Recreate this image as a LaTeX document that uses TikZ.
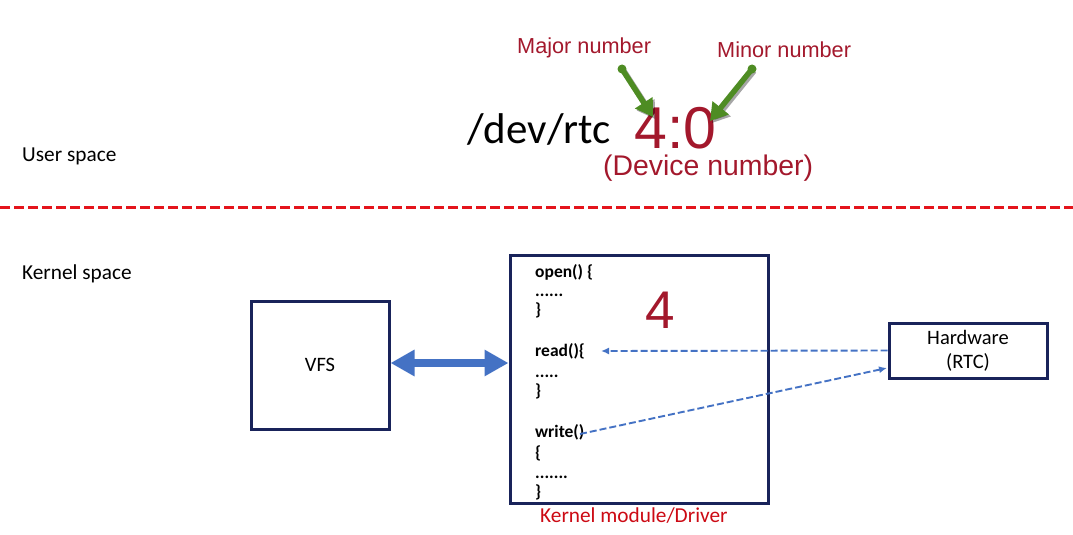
\documentclass[tikz,border=0pt]{standalone}
\usepackage{fontspec}
\setmainfont{Carlito}
\newfontfamily\arialf{Liberation Sans}
\usetikzlibrary{arrows.meta,calc}
\definecolor{dred}{RGB}{163,24,44}
\definecolor{kred}{RGB}{204,10,20}
\definecolor{lred}{RGB}{228,20,28}
\definecolor{navy}{RGB}{25,35,90}
\definecolor{mblue}{RGB}{68,114,196}
\definecolor{mgreen}{RGB}{78,140,35}
\tikzset{
  box/.style={draw=navy,line width=3pt,rectangle,inner sep=0pt},
  lbl/.style={anchor=base west,inner sep=0pt,font=\fontsize{21.3}{25}\selectfont},
  code/.style={anchor=base west,inner sep=0pt,font=\fontsize{17.5}{20}\selectfont\bfseries},
  dashblue/.style={draw=mblue,line width=1.9pt,dash pattern=on 7pt off 3pt,-{Latex[length=8pt,width=7pt]}},
  greenarrow/.style={draw=mgreen,line width=5.5pt,-{Triangle[length=17pt,width=20pt]}},
  greenshadow/.style={draw=black,opacity=0.35,line width=5.5pt,-{Triangle[length=17pt,width=20pt]}},
}
\begin{document}
\begin{tikzpicture}[x=1pt,y=-1pt]
\useasboundingbox (0,0) rectangle (1073,535);
% labels
\node[lbl] (us) at (22,161) {User space};
\node[lbl] (ks) at (22,279) {Kernel space};
% separator
\coordinate (sepL) at (0,207);
\coordinate (sepR) at (1073,207);
\draw[lred,line width=3pt,dash pattern=on 10pt off 4pt] (sepL) -- (sepR);
% top
\node[anchor=base west,inner sep=0pt,font=\fontsize{43}{50}\selectfont] (dev) at (467,143) {/dev/rtc};
\node[anchor=base west,inner sep=0pt,text depth=0pt,text=dred,font=\arialf\fontsize{59}{66}\selectfont] (num) at (634,148) {4:0};
\node[anchor=base west,inner sep=0pt,text height=19pt,text=dred,font=\arialf\fontsize{28.4}{32}\selectfont] (devnum) at (603,175) {(Device number)};
\node[anchor=base west,inner sep=0pt,text=dred,font=\arialf\fontsize{21.7}{26}\selectfont] (major) at (517,53) {Major number};
\node[anchor=base west,inner sep=0pt,text=dred,font=\arialf\fontsize{21.7}{26}\selectfont] (minor) at (717,57) {Minor number};
\coordinate (maS) at (622,69);
\coordinate (maE) at (653,117);
\coordinate (miS) at (752,69);
\coordinate (miE) at (710,121);
\draw[greenshadow] ($(maS)+(2,2)$) -- ($(maE)+(2,2)$);
\draw[greenshadow] ($(miS)+(2,2)$) -- ($(miE)+(2,2)$);
\draw[greenarrow] (maS) -- (maE);
\draw[greenarrow] (miS) -- (miE);
\fill[mgreen] (maS) circle (4.5);
\fill[mgreen] (miS) circle (4.5);
% boxes
\node[box,minimum width=138pt,minimum height=128pt,font=\fontsize{20.5}{24}\selectfont] (vfs) at (320,365) {VFS};
\node[box,minimum width=258pt,minimum height=248pt] (drv) at (639,379) {};
\node[box,minimum width=158pt,minimum height=55pt,align=center,font=\fontsize{20.5}{24}\selectfont] (hw) at (968,350.5) {Hardware\\(RTC)};
% code
\node[code] (c1) at (535,277) {open() \{};
\node[code] (c2) at (535,296) {......};
\node[code] (c3) at (535,315) {\}};
\node[code] (rd) at (535,356) {read()\{};
\node[code] (c5) at (535,377) {.....};
\node[code] (c6) at (535,396) {\}};
\node[code] (wr) at (535,437) {write()};
\node[code] (c8) at (535,458) {\{};
\node[code] (c9) at (535,478) {.......};
\node[code] (c10) at (535,497) {\}};
\node[anchor=base west,inner sep=0pt,text=dred,font=\arialf\fontsize{53}{60}\selectfont] (four) at (645,328) {4};
\node[lbl,text=kred] (kmd) at (540,522) {Kernel module/Driver};
% double arrow
\draw[mblue,line width=8pt,{Triangle[length=24pt,width=25pt]}-{Triangle[length=24pt,width=25pt]}] ([yshift=2pt]vfs.east) -- ([yshift=2pt]vfs.east -| drv.west);
% dashed arrows
\coordinate (rdT) at (601,351);
\coordinate (wrS) at (580,434);
\coordinate (hwT) at (887,368);
\draw[dashblue] (hw.west) -- (rdT);
\draw[dashblue] (wrS) -- (hwT);
\end{tikzpicture}
\end{document}
